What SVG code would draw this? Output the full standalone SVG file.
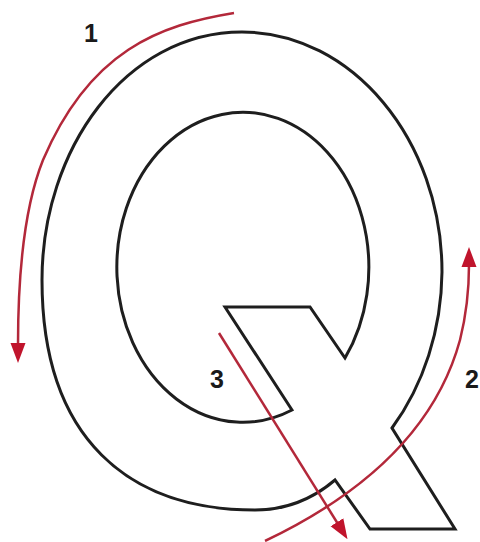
<svg xmlns="http://www.w3.org/2000/svg" width="480" height="542" viewBox="0 0 480 542">
<style>
.outline{fill:none;stroke:#1e1e1e;stroke-width:3;stroke-linejoin:miter}
.stroke{fill:none;stroke:#b3283a;stroke-width:2.5}
.lbl{font-family:"Liberation Sans",Arial,sans-serif;font-weight:bold;font-size:25px;fill:#1a1a1a;text-anchor:middle}
</style>
<defs>
<marker id="ah" markerUnits="userSpaceOnUse" markerWidth="20" markerHeight="20" viewBox="0 0 20 20" refX="2" refY="10" orient="auto">
<path d="M0,2.5 L20,10 L0,17.5 Z" fill="#c0142c"/>
</marker>
</defs>
<rect width="480" height="542" fill="#fff"/>
<g id="letterQ">
<path id="outer" class="outline" d="M392,428 A200,240 0 0 0 442,272 C442,140 352,32 242,32 C125,32 42,150 42,280 C42,440 130,510 255,510 C290,510 315,497 335,480 L370,529 L455,529 Z"/>
<path id="inner" class="outline" d="M292,410 L225,307 L310,307 L345,358 A126,155 0 1 0 292,410 Z"/>
</g>
<g id="connectors">
<path id="stroke1" class="stroke" d="M234,13 C160,25 90,50 43,160 C27,200 18,260 18,345" marker-end="url(#ah)"/>
<path id="stroke2" class="stroke" d="M265,541 C330,510 430,450 460,340 C467,312 469,292 469,265" marker-end="url(#ah)"/>
<path id="stroke3" class="stroke" d="M219,333 L338,524" marker-end="url(#ah)"/>
</g>
<g id="labels">
<text class="lbl" x="91" y="42">1</text>
<text class="lbl" x="472" y="388">2</text>
<text class="lbl" x="217" y="388">3</text>
</g>
</svg>
